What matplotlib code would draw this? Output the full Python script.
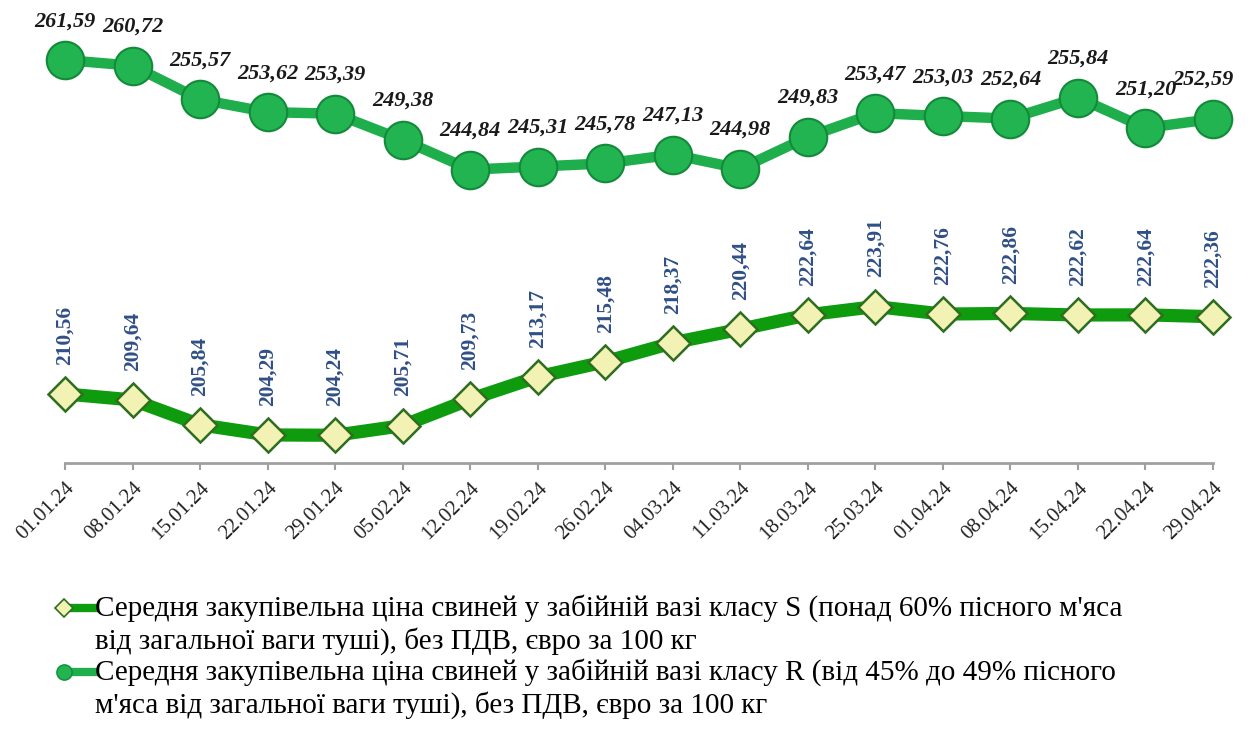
import matplotlib
matplotlib.use("Agg")
import matplotlib.pyplot as plt
from matplotlib.lines import Line2D
from matplotlib.legend_handler import HandlerLine2D

dates = ["01.01.24", "08.01.24", "15.01.24", "22.01.24", "29.01.24", "05.02.24",
         "12.02.24", "19.02.24", "26.02.24", "04.03.24", "11.03.24", "18.03.24",
         "25.03.24", "01.04.24", "08.04.24", "15.04.24", "22.04.24", "29.04.24"]
price_r = [261.59, 260.72, 255.57, 253.62, 253.39, 249.38, 244.84, 245.31, 245.78,
           247.13, 244.98, 249.83, 253.47, 253.03, 252.64, 255.84, 251.20, 252.59]
price_s = [210.56, 209.64, 205.84, 204.29, 204.24, 205.71, 209.73, 213.17, 215.48,
           218.37, 220.44, 222.64, 223.91, 222.76, 222.86, 222.62, 222.64, 222.36]
label_s = ("Середня закупівельна ціна свиней у забійній вазі класу S (понад 60% пісного м'яса\n"
           "від загальної ваги туші), без ПДВ, євро за 100 кг")
label_r = ("Середня закупівельна ціна свиней у забійній вазі класу R (від 45% до 49% пісного\n"
           "м'яса від загальної ваги туші), без ПДВ, євро за 100 кг")


def fmt(v):
    return f"{v:.2f}".replace(".", ",")


class LeftMarker(HandlerLine2D):
    # marker at the left end of the sample, aligned with the first text line
    def create_artists(self, legend, orig_handle, xdescent, ydescent, width,
                       height, fontsize, trans):
        arts = super().create_artists(legend, orig_handle, xdescent, ydescent,
                                      width, height, fontsize, trans)
        line = arts[0]
        xd = line.get_xdata()
        y = line.get_ydata()[0] + 12
        line.set_data([xd[0] + 6, xd[-1]], [y, y])
        line.set_markevery([0])
        return arts


plt.rcParams["font.family"] = ["Liberation Serif", "DejaVu Serif"]

fig = plt.figure(figsize=(12.53, 7.40), dpi=100)
W, H = 1253, 740
ax = fig.add_axes([65 / W, (H - 463) / H, (1213 - 65) / W, 463 / H])
ax.patch.set_alpha(0)

xs = list(range(len(dates)))

ax.plot(xs, price_r, color="#1fae4c", lw=7.5, marker="o", ms=27,
        mfc="#22b450", mec="#138a3a", mew=1.5, zorder=3, clip_on=False)
ax.plot(xs, price_s, color="#0e9c0e", lw=9.5, marker="D", ms=17,
        mfc="#f2f2b4", mec="#2e6e1e", mew=1.8, zorder=3, clip_on=False)

for i, v in enumerate(price_r):
    dx = -7 if i == len(price_r) - 1 else 0
    ax.annotate(fmt(v), (i, v), xytext=(dx, 28), textcoords="offset points",
                ha="center", va="center", fontsize=16, fontweight="bold",
                fontstyle="italic", color="#1a1a1a", zorder=5)

for i, v in enumerate(price_s):
    ax.annotate(fmt(v), (i, v), xytext=(0, 21), textcoords="offset points",
                ha="center", va="bottom", rotation=90, fontsize=15.5,
                fontweight="bold", color="#2f4f86", zorder=5)

ax.set_xlim(0, len(dates) - 1)
ax.set_ylim(200, 270.76)
ax.set_xticks(xs)
ax.set_xticklabels(dates, rotation=45, ha="right", rotation_mode="anchor",
                   fontsize=15, color="#222222")
ax.tick_params(axis="x", length=5, width=1.5, color="#a0a0a0", pad=6)
ax.set_yticks([])
for side in ["top", "right", "left"]:
    ax.spines[side].set_visible(False)
ax.spines["bottom"].set_color("#a0a0a0")
ax.spines["bottom"].set_linewidth(2)

h_s = Line2D([0, 1], [0, 0], color="#0e9c0e", lw=6, marker="D", ms=9,
             mfc="#f2f2b4", mec="#2e6e1e", mew=1.2)
h_r = Line2D([0, 1], [0, 0], color="#1fae4c", lw=6, marker="o", ms=11,
             mfc="#22b450", mec="#138a3a", mew=1)
leg = fig.legend([h_s, h_r], [label_s, label_r], loc="upper left",
                 bbox_to_anchor=(56 / W, 1 - 594 / H), frameon=False,
                 fontsize=21, handlelength=1.3, handletextpad=0.05,
                 labelspacing=0.1, numpoints=1, borderpad=0,
                 borderaxespad=0,
                 handler_map={h_s: LeftMarker(), h_r: LeftMarker()})
for t in leg.get_texts():
    t.set_linespacing(1.25)

fig.savefig("out.png", dpi=100)
